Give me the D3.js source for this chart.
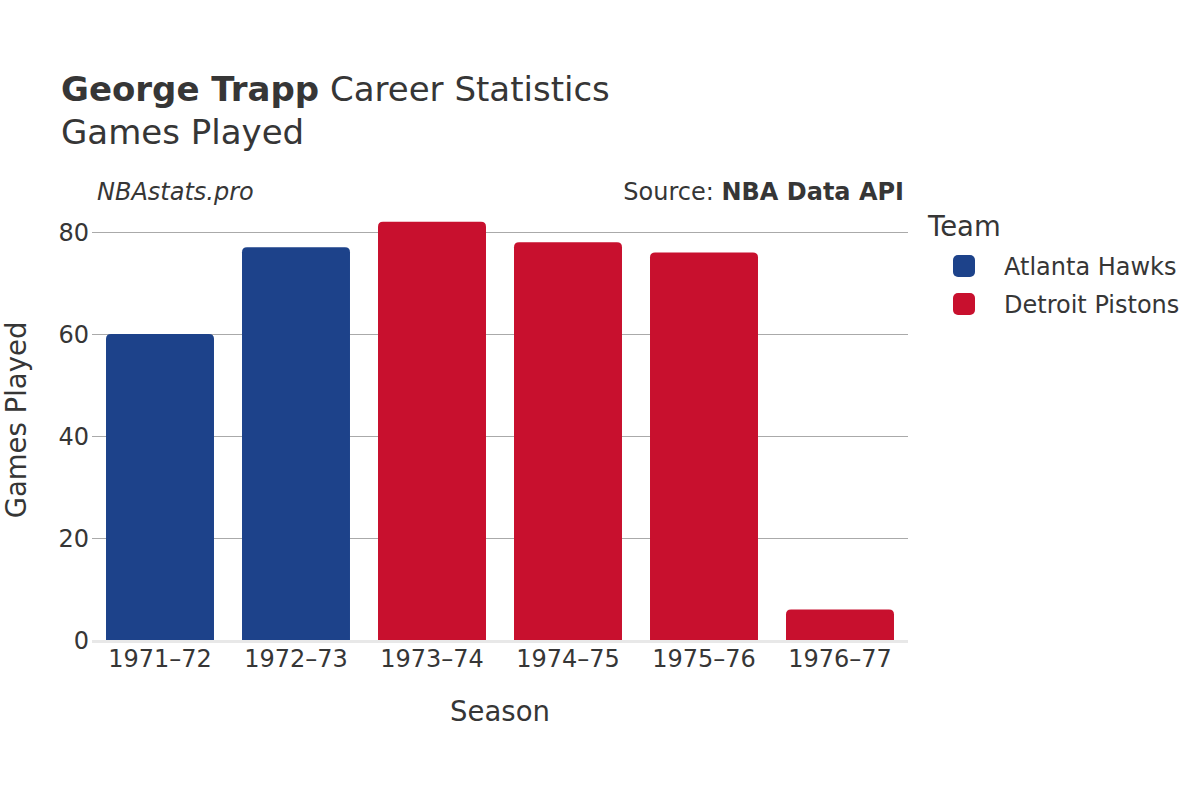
<!DOCTYPE html>
<html><head><meta charset="utf-8">
<script src="https://cdn.jsdelivr.net/npm/d3@7"></script>
<style>body{margin:0;background:#fff;font-family:"DejaVu Sans",sans-serif;}</style>
</head><body>
<svg id="c" width="1200" height="800"></svg>
<script>
const seasons = ["1971–72","1972–73","1973–74","1974–75","1975–76","1976–77"];
const teams = ["Atlanta Hawks","Atlanta Hawks","Detroit Pistons","Detroit Pistons","Detroit Pistons","Detroit Pistons"];
const games = [60,77,82,78,76,6];
const yTicks = [0,20,40,60,80];
const legendTeams = ["Atlanta Hawks","Detroit Pistons"];
const teamColors = ["#1d428a","#c8102e"];

const svg = d3.select("#c");
const txt = "#363636";
const x = d3.scaleBand().domain(seasons).range([92,908]).paddingInner(0.206).paddingOuter(0.103);
const y = d3.scaleLinear().domain([0,80]).range([640,232]);
const color = d3.scaleOrdinal().domain(legendTeams).range(teamColors);

// grid
svg.append("g").selectAll("line").data(yTicks.filter(d=>d>0)).join("line")
  .attr("x1",92).attr("x2",908).attr("y1",d=>Math.round(y(d))+0.5).attr("y2",d=>Math.round(y(d))+0.5)
  .attr("stroke","#aaaaaa").attr("stroke-width",1);
// baseline
svg.append("line").attr("x1",92).attr("x2",908).attr("y1",y(0)+1.5).attr("y2",y(0)+1.5)
  .attr("stroke","#e8e8e8").attr("stroke-width",3);

// bars
function barPath(x0,w,yt,yb,r){
  r=Math.min(r,(yb-yt),w/2);
  return `M${x0},${yb}V${yt+r}Q${x0},${yt} ${x0+r},${yt}H${x0+w-r}Q${x0+w},${yt} ${x0+w},${yt+r}V${yb}Z`;
}
svg.append("g").selectAll("path").data(seasons).join("path")
  .attr("d",(s,i)=>barPath(x(s),x.bandwidth(),y(games[i]),y(0),5))
  .attr("fill",(s,i)=>color(teams[i]));

// y axis labels
svg.append("g").selectAll("text").data(yTicks).join("text")
  .attr("x",89).attr("y",d=>y(d)+8.5).attr("text-anchor","end")
  .attr("font-size",24).attr("fill",txt).text(d=>d);
// x axis labels
svg.append("g").selectAll("text").data(seasons).join("text")
  .attr("x",d=>x(d)+x.bandwidth()/2).attr("y",667).attr("text-anchor","middle")
  .attr("font-size",24).attr("fill",txt).text(d=>d);

// axis titles
svg.append("text").attr("x",500).attr("y",721).attr("text-anchor","middle")
  .attr("font-size",27.5).attr("fill",txt).text("Season");
svg.append("text").attr("transform","translate(26,420) rotate(-90)").attr("text-anchor","middle")
  .attr("font-size",27.5).attr("fill",txt).text("Games Played");

// titles
const t = svg.append("text").attr("x",61).attr("y",101).attr("font-size",34).attr("fill",txt);
t.append("tspan").attr("font-weight","bold").text("George Trapp");
t.append("tspan").text(" Career Statistics");
svg.append("text").attr("x",61).attr("y",144).attr("font-size",34).attr("fill",txt).text("Games Played");

svg.append("text").attr("x",97).attr("y",200).attr("font-size",24).attr("font-style","italic").attr("fill",txt).text("NBAstats.pro");
const s = svg.append("text").attr("x",904).attr("y",200).attr("text-anchor","end").attr("font-size",24).attr("fill",txt);
s.append("tspan").text("Source: ");
s.append("tspan").attr("font-weight","bold").text("NBA Data API");

// legend
svg.append("text").attr("x",928).attr("y",236).attr("font-size",27.5).attr("fill",txt).text("Team");
const lg = svg.append("g").selectAll("g").data(legendTeams).join("g")
  .attr("transform",(d,i)=>`translate(0,${266+i*38})`);
lg.append("rect").attr("x",953).attr("y",-11).attr("width",22).attr("height",22).attr("rx",5)
  .attr("fill",d=>color(d));
lg.append("text").attr("x",1004).attr("y",8.5).attr("font-size",24).attr("fill",txt).text(d=>d);
</script>
</body></html>
